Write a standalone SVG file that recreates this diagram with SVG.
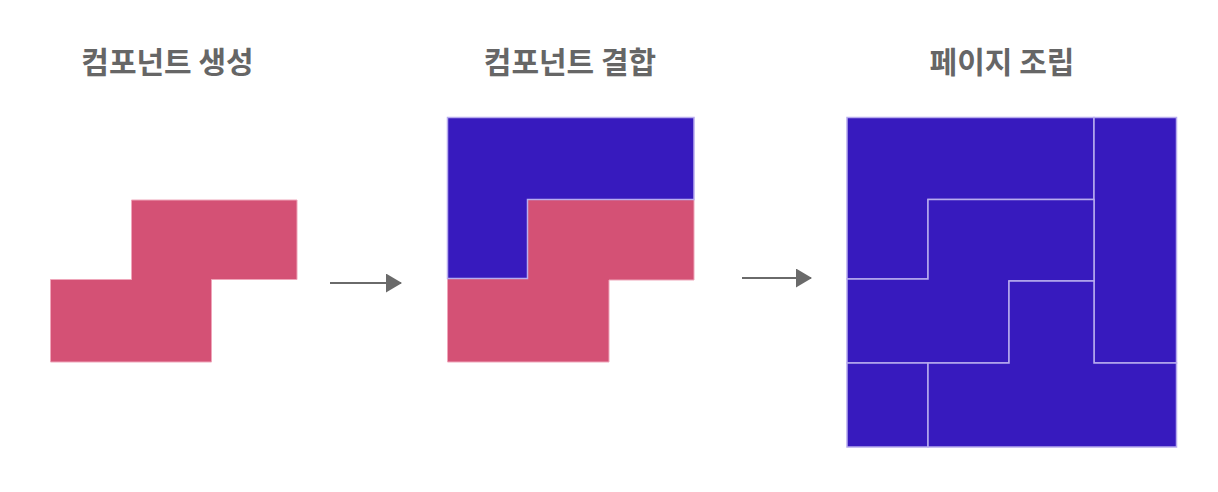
<svg xmlns="http://www.w3.org/2000/svg" width="1218" height="492" viewBox="0 0 1218 492">
<style>
.title{font-family:"Noto Sans CJK KR","Noto Sans",sans-serif;font-weight:700;font-size:30px;fill:#666;text-anchor:middle}
.pink{fill:#D45175;stroke:#EFA6BA;stroke-width:1}
.blue{fill:#371ABE;stroke:#B8ACEE;stroke-width:1.5}
.arrow{stroke:#6a6a6a;stroke-width:2.2;fill:none}
</style>
<defs>
<marker id="ah" markerWidth="16" markerHeight="19" refX="15" refY="9.5" orient="auto" markerUnits="userSpaceOnUse" viewBox="0 0 16 19">
<path d="M0,0 L16,9.5 L0,19 Z" fill="#6a6a6a"/>
</marker>
</defs>
<rect width="1218" height="492" fill="#fff"/>
<g id="step1">
<text class="title" x="167.5" y="73">컴포넌트 생성</text>
<polygon class="pink" points="131.5,200 297,200 297,279.5 211.5,279.5 211.5,362 50.5,362 50.5,279.5 131.5,279.5"/>
</g>
<g id="step2">
<text class="title" x="570" y="73">컴포넌트 결합</text>
<polygon class="pink" points="527.5,199.5 694,199.5 694,280 609,280 609,362 447.5,362 447.5,278.5 527.5,278.5"/>
<polygon class="blue" points="447.5,117.5 694,117.5 694,199.5 527.5,199.5 527.5,278.5 447.5,278.5"/>
</g>
<g id="step3">
<text class="title" x="1002" y="73">페이지 조립</text>
<polygon class="blue" points="847,117.5 1094,117.5 1094,199.5 928,199.5 928,279 847,279"/>
<polygon class="blue" points="1094,117.5 1176.5,117.5 1176.5,363 1094,363"/>
<polygon class="blue" points="928,199.5 1094,199.5 1094,281 1009,281 1009,363 847,363 847,279 928,279"/>
<polygon class="blue" points="847,363 928,363 928,447 847,447"/>
<polygon class="blue" points="928,363 1009,363 1009,281 1094,281 1094,363 1176.5,363 1176.5,447 928,447"/>
</g>
<g id="connectors">
<line class="arrow" x1="330" y1="283" x2="401" y2="283" marker-end="url(#ah)"/>
<line class="arrow" x1="742" y1="278" x2="811" y2="278" marker-end="url(#ah)"/>
</g>
</svg>
